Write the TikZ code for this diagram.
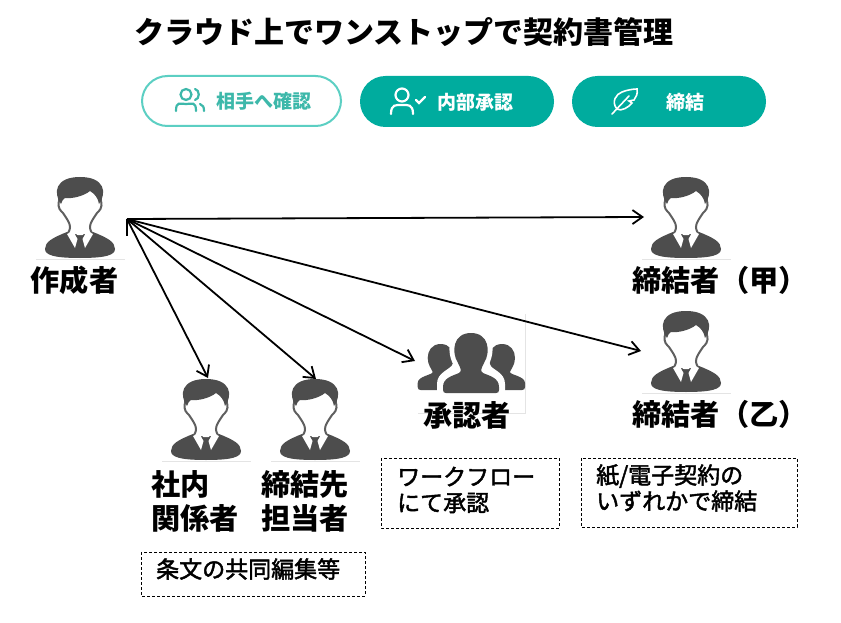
\documentclass[tikz,border=0pt]{standalone}
\usepackage{fontspec}
\setmainfont{Noto Sans CJK JP}
\newfontfamily\memofont{Noto Sans CJK JP}[FakeBold=2]
\usetikzlibrary{arrows.meta}
\definecolor{teal1}{HTML}{00AC9E}
\definecolor{teal2}{HTML}{5CCFC3}
\definecolor{teal3}{HTML}{3DB8AA}
\definecolor{dark1}{HTML}{4D4D4D}
\definecolor{rule1}{HTML}{E4E4E4}
\tikzset{
  x=1pt,y=-1pt,
  flow/.style={line width=1.8pt,black,-{Straight Barb[length=10pt,width=14pt,line width=1.8pt]}},
  dashbox/.style={draw=black,line width=0.8pt,dash pattern=on 3pt off 2pt},
  pill/.style={rounded corners=25.5pt},
  heading/.style={font=\fontsize{30}{36}\selectfont\bfseries,anchor=center,inner sep=0pt},
  role/.style={font=\fontsize{29.2}{34}\selectfont\bfseries,inner sep=0pt,align=left},
  memo/.style={font=\memofont\fontsize{23}{26}\selectfont,inner sep=0pt,align=left,anchor=west},
  pilltext/.style={font=\fontsize{19}{21}\selectfont\bfseries,inner sep=0pt},
  icon/.style={line width=2.2pt,line cap=round},
  person/.pic={
    % face and neck
    \fill[white,draw=dark1!90,line width=2pt] (-21,24)
      .. controls (-23,31) and (-19,34) .. (-17,36)
      .. controls (-13,42) and (-10,46) .. (-10,50)
      .. controls (-10,54) and (-12,55) .. (-13,58)
      -- (13,58)
      .. controls (12,55) and (10,54) .. (10,50)
      .. controls (10,46) and (13,42) .. (17,36)
      .. controls (19,34) and (23,31) .. (21,24)
      -- (20,10) -- (-20,10) -- cycle;
    % jacket
    \fill[dark1] (-35,72) .. controls (-35,65) and (-28,61) .. (-13,55)
      -- (-9,58) -- (9,58) -- (13,55) .. controls (28,61) and (35,65) .. (35,72)
      .. controls (35,78) and (26,81) .. (0,81)
      .. controls (-26,81) and (-35,78) .. (-35,72) -- cycle;
    % hair
    \fill[dark1] (-19,27) .. controls (-27,16) and (-25,0) .. (0,0)
      .. controls (25,0) and (27,16) .. (19,27)
      .. controls (18,21) and (15,17) .. (10,14)
      .. controls (4,19) and (-8,22) .. (-15,21)
      .. controls (-17,22) and (-18,24) .. (-19,27) -- cycle;
    % collar and tie
    \fill[white] (-13,57) -- (-7,54) -- (-2.5,62) -- (-5,71) -- cycle;
    \fill[white] (13,57) -- (7,54) -- (2.5,62) -- (5,71) -- cycle;
    \fill[white] (-7,54) -- (7,54) -- (2.5,58) -- (-2.5,58) -- cycle;
  },
  shoulders/.pic={
    \fill[dark1] (0,0) .. controls (-9,0) and (-13,7) .. (-13,14)
      .. controls (-13,21) and (-9,25) .. (-8,28)
      .. controls (-8,31) and (-23,32) .. (-23,39) -- (-23,43)
      .. controls (-23,45) and (-22,46) .. (-20,46) -- (20,46)
      .. controls (22,46) and (23,45) .. (23,43) -- (23,39)
      .. controls (23,32) and (8,31) .. (8,28)
      .. controls (9,25) and (13,21) .. (13,14)
      .. controls (13,7) and (9,0) .. (0,0) -- cycle;
  },
}
\begin{document}
\begin{tikzpicture}
\useasboundingbox (0,0) rectangle (841,623);
% heading
\node[heading] (title) at (404,32) {クラウド上でワンストップで契約書管理};

% status pills
\draw[pill,draw=teal2,line width=2pt,fill=white] (142,76) rectangle (341,126);
\fill[pill,teal1] (360,76) rectangle (554,127);
\fill[pill,teal1] (572,76) rectangle (766,127);
\node[pilltext,text=teal3,anchor=center] (pilla) at (263.5,101) {相手へ確認};
\node[pilltext,text=white,anchor=center] (pillb) at (475,102) {内部承認};
\node[pilltext,text=white,anchor=center] (pillc) at (685.5,102) {締結};

% two users
\draw[icon,teal3] (186,94.5) circle (5.5);
\draw[icon,teal3] (176,111) .. controls (176,101) and (180,104) .. (186,104) .. controls (192,104) and (196,101) .. (196,111);
\draw[icon,teal3] (195,89) .. controls (200,90) and (200,99) .. (195,100);
\draw[icon,teal3] (200,104) .. controls (203,105) and (204,107) .. (204,111);
% user with tick
\draw[icon,white] (402,95) circle (6.5);
\draw[icon,white] (391,114) .. controls (391,104) and (396,105) .. (402,105) .. controls (408,105) and (413,104) .. (413,114);
\draw[icon,white] (416,100) -- (419,103) -- (425,97);
% feather
\draw[icon,white,line width=1.6pt] (612,114) -- (629,96);
\draw[icon,white,line width=1.6pt] (617,109) .. controls (611,102) and (616,94) .. (622,92)
  .. controls (627,90) and (633,89) .. (637,89)
  .. controls (638,94) and (636,97) .. (634,100) -- (629,101) -- (632,103)
  .. controls (629,107) and (621,112) .. (617,109) -- cycle;

% people
\pic at (80,177) {person};
\pic at (686,177) {person};
\pic at (686,311) {person};
\pic at (206,379) {person};
\pic at (315,379) {person};
\draw[rule1] (36,259.5) -- (125,259.5);
\draw[rule1] (642,259.5) -- (731,259.5);
\draw[rule1] (642,393.5) -- (731,393.5);
\draw[rule1] (162,461.5) -- (251,461.5);
\draw[rule1] (271,461.5) -- (360,461.5);

% approver group
\draw[rule1] (525.5,314) -- (525.5,413.5) -- (418,413.5);
\begin{scope}
  \pic at (440.7,344) {shoulders};
  \pic at (502,344) {shoulders};
  \fill[white] (471,328) .. controls (448,328) and (446,350) .. (453,364)
    .. controls (450,370) and (437,372) .. (437,384) -- (437,396) -- (505,396) -- (505,384)
    .. controls (505,372) and (492,370) .. (489,364)
    .. controls (496,350) and (494,328) .. (471,328) -- cycle;
  \fill[dark1] (471,333) .. controls (453,333) and (451,352) .. (458,363)
    .. controls (461,369) and (462,371) .. (459,373)
    .. controls (452,376) and (443,378) .. (443,387) -- (443,390)
    .. controls (443,392) and (444,393) .. (446,393) -- (496,393)
    .. controls (498,393) and (499,392) .. (499,390) -- (499,387)
    .. controls (499,378) and (490,376) .. (483,373)
    .. controls (480,371) and (481,369) .. (484,363)
    .. controls (491,352) and (489,333) .. (471,333) -- cycle;
\end{scope}

% labels
\node[role,anchor=center] (author) at (74.5,280) {作成者};
\node[role,anchor=center] (signa) at (720,280) {締結者（甲）};
\node[role,anchor=center] (signb) at (720,414) {締結者（乙）};
\node[role,anchor=center] (approver) at (467,415) {承認者};
\node[role,anchor=west] (internal) at (151,501) {社内\\関係者};
\node[role,anchor=west] (counter) at (261,501) {締結先\\担当者};

% notes
\draw[dashbox] (381,458) rectangle (559,528);
\draw[dashbox] (581,458) rectangle (797,527);
\draw[dashbox] (141,552) rectangle (365,596);
\node[memo] (noteb) at (397,490) {ワークフロー\\にて承認};
\node[memo] (notec) at (596,488) {紙/電子契約の\\いずれかで締結};
\node[memo] (notea) at (156,569) {条文の共同編集等};

% routes out of the author
\coordinate (src) at (127,219);
\coordinate (srcstub) at (127,236);
\coordinate (toa) at (644,217);
\coordinate (tob) at (641,351);
\coordinate (toapp) at (415,361);
\coordinate (tocounter) at (316,379);
\coordinate (tointernal) at (208,378);
\draw[line width=1.8pt] (src) -- (srcstub);
\draw[flow] (src) -- (toa);
\draw[flow] (src) -- (tob);
\draw[flow] (src) -- (toapp);
\draw[flow] (src) -- (tocounter);
\draw[flow] (src) -- (tointernal);
\end{tikzpicture}
\end{document}
